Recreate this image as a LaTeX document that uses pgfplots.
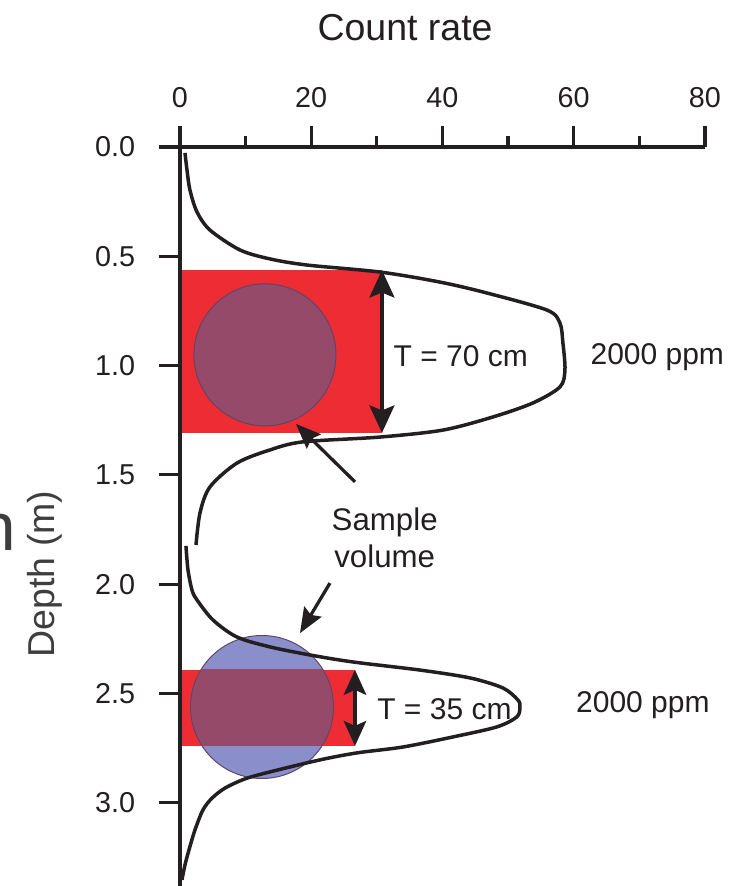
\documentclass[border=0pt]{standalone}
\usepackage{pgfplots}
\pgfplotsset{compat=1.18}
\usepackage{fontspec}
\setmainfont{Liberation Sans}
\usetikzlibrary{arrows.meta}

\definecolor{ink}{RGB}{35,31,32}
\definecolor{labelgrey}{RGB}{62,62,62}
\definecolor{slabred}{RGB}{237,44,52}
\definecolor{volblue}{RGB}{138,143,204}
\definecolor{volpurple}{RGB}{150,74,106}
\definecolor{voledge}{RGB}{95,70,105}

% count rate (c) against depth (d, m) through the two mineralised layers
\pgfplotstableread{
c d
0.76 0.027
1.07 0.105
1.52 0.197
2.59 0.297
4.57 0.380
9.14 0.471
13.71 0.512
19.35 0.540
30.48 0.572
39.62 0.618
46.78 0.668
55.92 0.746
57.90 0.805
58.36 0.897
58.67 1.020
57.90 1.098
53.79 1.171
47.70 1.235
40.08 1.295
30.48 1.327
18.74 1.349
13.71 1.386
8.69 1.446
4.57 1.555
3.05 1.674
2.44 1.821
}\upperlog

\pgfplotstableread{
c d
0.91 1.825
1.22 1.935
1.83 2.027
2.59 2.072
5.03 2.164
8.69 2.242
13.71 2.287
19.81 2.324
26.36 2.356
36.57 2.393
44.19 2.429
49.22 2.475
51.50 2.530
51.81 2.562
51.35 2.607
48.30 2.653
41.60 2.699
33.98 2.745
26.97 2.772
21.33 2.804
13.71 2.859
9.90 2.891
6.86 2.933
4.88 2.979
3.50 3.033
2.29 3.124
1.37 3.216
0.76 3.285
0.30 3.353
}\lowerlog

\begin{document}
\begin{tikzpicture}
\begin{axis}[
  x=2.625pt, y=87.44pt, y dir=reverse,
  xmin=0, xmax=80, ymin=0, ymax=3.381,
  axis x line*=top,
  axis y line*=left,
  axis on top,
  clip=false,
  axis line style={-, line width=1.3pt, ink},
  tick style={line width=1.3pt, ink},
  tick align=outside,
  major tick length=8.4pt,
  minor tick length=4.4pt,
  xtick={0,20,40,60,80},
  minor xtick={10,30,50,70},
  ytick={0,0.5,1,1.5,2,2.5,3},
  ticklabel style={font=\fontsize{11.5}{13}\selectfont, text=ink},
  xticklabel style={yshift=3.6pt},
  yticklabel style={xshift=-6pt, /pgf/number format/.cd, fixed, fixed zerofill, precision=1},
  /pgf/number format/assume math mode=true,
]

% sampled slabs
\addplot[fill=slabred, draw=none] coordinates {(0,0.563) (30.78,0.563) (30.78,1.308) (0,1.308)} -- cycle;
\addplot[fill=slabred, draw=none] coordinates {(0,2.392) (26.67,2.392) (26.67,2.740) (0,2.740)} -- cycle;

% sample volume of the probe
\fill[volpurple] (axis cs:12.95,0.951) circle[radius=28.4pt];
\draw[voledge, line width=0.4pt] (axis cs:12.95,0.951) circle[radius=28.4pt];
\fill[volblue] (axis cs:12.5,2.562) circle[radius=28.6pt];
\begin{scope}
  \clip (axis cs:0,2.392) rectangle (axis cs:26.67,2.740);
  \fill[volpurple] (axis cs:12.5,2.562) circle[radius=28.6pt];
\end{scope}
\draw[voledge, line width=0.4pt] (axis cs:12.5,2.562) circle[radius=28.6pt];

% gamma log
\addplot[ink, line width=1.4pt, smooth, tension=0.5] table[x=c, y=d] {\upperlog};
\addplot[ink, line width=1.4pt, smooth, tension=0.5] table[x=c, y=d] {\lowerlog};

% layer thickness arrows
\draw[ink, line width=1.3pt, {Stealth[length=11pt,width=10pt,inset=2pt]}-{Stealth[length=11pt,width=10pt,inset=2pt]}]
  (axis cs:30.78,0.563) -- (axis cs:30.78,1.308);
\draw[ink, line width=1.3pt, {Stealth[length=10pt,width=9pt,inset=2pt]}-{Stealth[length=10pt,width=9pt,inset=2pt]}]
  (axis cs:26.67,2.392) -- (axis cs:26.67,2.740);

\node[anchor=west, inner sep=0pt, text=ink, font=\fontsize{12}{14}\selectfont] at (axis cs:32.5,0.955) {T = 70 cm};
\node[anchor=west, inner sep=0pt, text=ink, font=\fontsize{12}{14}\selectfont] at (axis cs:30.0,2.57) {T = 35 cm};
\node[anchor=west, inner sep=0pt, text=ink, font=\fontsize{12}{14}\selectfont] at (axis cs:62.5,0.96) {2000 ppm};
\node[anchor=west, inner sep=0pt, text=ink, font=\fontsize{12}{14}\selectfont] at (axis cs:60.3,2.553) {2000 ppm};

% sample volume callout
\node[align=center, inner sep=0pt, text=ink, font=\fontsize{12.5}{14.8}\selectfont] at (axis cs:31.2,1.789) {Sample\\volume};
\draw[ink, line width=1.3pt, -{Stealth[length=10pt,width=8pt,inset=1.5pt]}]
  (axis cs:26.67,1.532) -- (axis cs:17.68,1.267);
\draw[ink, line width=1.3pt, -{Stealth[length=10pt,width=8pt,inset=1.5pt]}]
  (axis cs:22.86,1.995) -- (axis cs:18.29,2.224);

% axis titles
\node[anchor=base, inner sep=0pt, text=ink, font=\fontsize{15}{18}\selectfont] at (axis cs:34.3,-0.485) {Count rate};
\node[rotate=90, anchor=base, inner sep=0pt, text=labelgrey, font=\fontsize{15}{18}\selectfont] at (axis cs:-19.05,1.953) {Depth (m)};
\node[anchor=base east, inner sep=0pt, text=labelgrey, font=\fontsize{27}{30}\selectfont] at (axis cs:-24.93,1.844) {n};

\coordinate (pagetl) at (axis cs:-27.43,-0.6725);
\coordinate (pagebr) at (axis cs:86.70,3.381);
\end{axis}
\pgfresetboundingbox
\useasboundingbox (pagetl) rectangle (pagebr);
\end{tikzpicture}
\end{document}
